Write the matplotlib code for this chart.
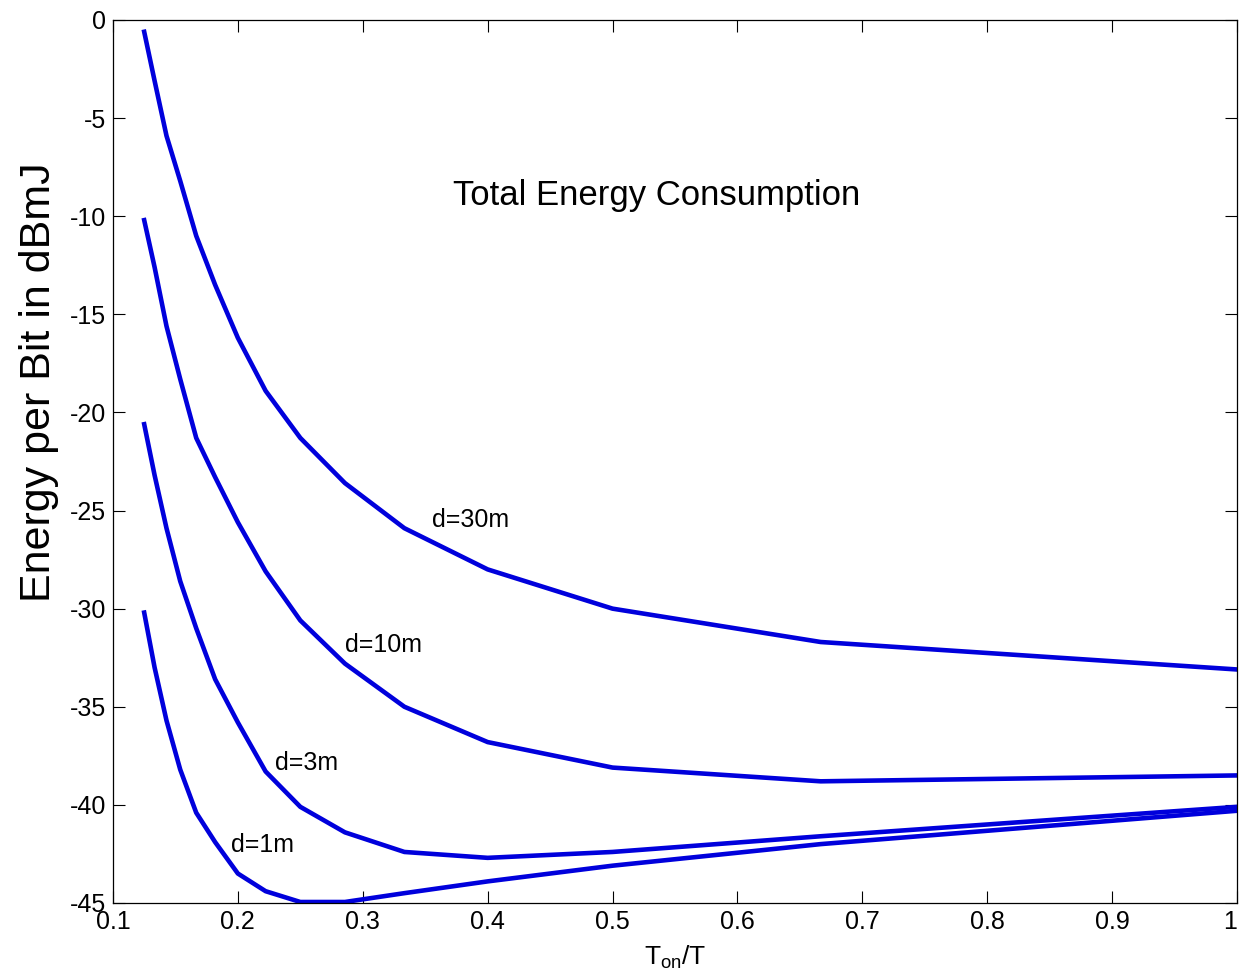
import matplotlib
matplotlib.use('Agg')
import matplotlib.pyplot as plt

# duty cycle T_on/T (2/n for n = 16 .. 2)
ton_ratio = [2/16, 2/15, 2/14, 2/13, 2/12, 2/11, 2/10, 2/9, 2/8, 2/7, 2/6, 2/5, 2/4, 2/3, 2/2]

# energy per bit in dBmJ for each distance
e_30m = [-0.6, -3.1, -5.9, -8.2, -11.0, -13.5, -16.2, -18.9, -21.3, -23.6, -25.9, -28.0, -30.0, -31.7, -33.1]
e_10m = [-10.2, -12.6, -15.6, -18.3, -21.3, -23.3, -25.6, -28.1, -30.6, -32.8, -35.0, -36.8, -38.1, -38.8, -38.5]
e_3m = [-20.6, -23.2, -25.9, -28.6, -31.0, -33.6, -35.8, -38.3, -40.1, -41.4, -42.4, -42.7, -42.4, -41.6, -40.1]
e_1m = [-30.2, -33.0, -35.7, -38.2, -40.4, -41.9, -43.5, -44.4, -44.95, -44.95, -44.5, -43.9, -43.1, -42.0, -40.3]

curve_labels = ['d=30m', 'd=10m', 'd=3m', 'd=1m']
label_x = [0.3552, 0.2856, 0.2296, 0.1944]
label_y = [-25.5, -31.86, -37.87, -42.05]

x_ticks = [0.1, 0.2, 0.3, 0.4, 0.5, 0.6, 0.7, 0.8, 0.9, 1.0]
x_tick_labels = ['0.1', '0.2', '0.3', '0.4', '0.5', '0.6', '0.7', '0.8', '0.9', '1']
y_ticks = [0, -5, -10, -15, -20, -25, -30, -35, -40, -45]

line_color = '#0000dc'
sans = ['Liberation Sans', 'DejaVu Sans']

fig = plt.figure(figsize=(12.4, 9.8), dpi=100)
ax = fig.add_axes([0.0911, 0.0786, 0.9065, 0.901])

for ys in [e_30m, e_10m, e_3m, e_1m]:
  ax.plot(ton_ratio, ys, color=line_color, lw=3.3, solid_joinstyle='round')

for lab, lx, ly in zip(curve_labels, label_x, label_y):
  ax.text(lx, ly, lab, fontsize=18, family=sans, va='center', ha='left')

ax.text(0.372, -8.97, 'Total Energy Consumption', fontsize=25, family=sans, va='center', ha='left')

ax.set_xlim(0.1, 1.0)
ax.set_ylim(-45, 0)
ax.set_xticks(x_ticks)
ax.set_xticklabels(x_tick_labels, family=sans, fontsize=18)
ax.get_xticklabels()[-1].set_horizontalalignment('right')
ax.set_yticks(y_ticks)
ax.set_yticklabels([str(v) for v in y_ticks], family=sans, fontsize=18)
ax.tick_params(direction='in', length=8.5, width=0.8, top=True, right=True, pad=5)
for sp in ax.spines.values():
  sp.set_linewidth(0.9)

ax.set_xlabel('T$_{\\mathregular{on}}$/T', family=sans, fontsize=19, labelpad=7)
ax.set_ylabel('Energy per Bit in dBmJ', family=sans, fontsize=31)
ax.yaxis.set_label_coords(-0.048, 0.59)

plt.savefig('out.png', dpi=100)
